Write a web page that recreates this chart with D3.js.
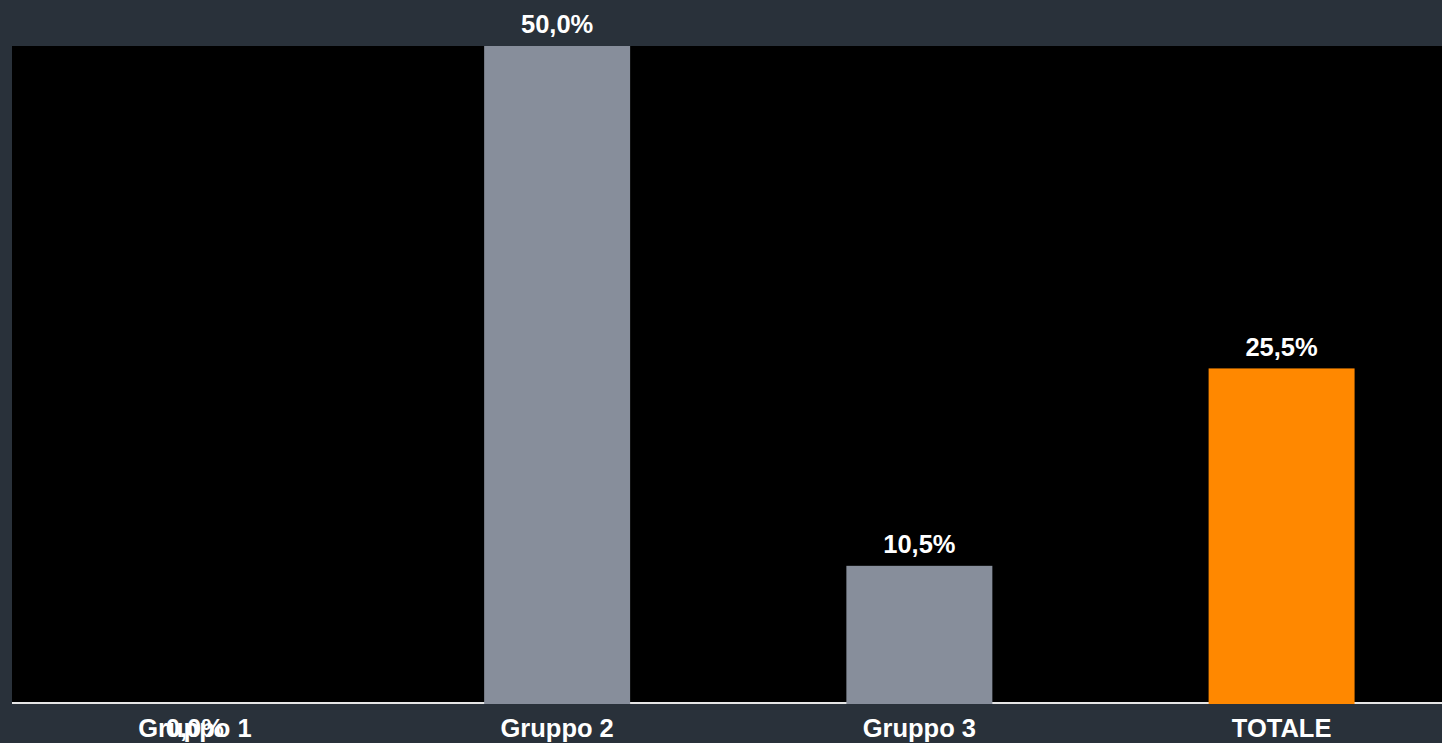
<!DOCTYPE html>
<html><head><meta charset="utf-8">
<script src="https://cdn.jsdelivr.net/npm/d3@7"></script>
<style>html,body{margin:0;padding:0;background:#29313a;overflow:hidden}</style>
</head><body>
<svg id="c" width="1442" height="743"></svg>
<script>
const categories = ["Gruppo 1", "Gruppo 2", "Gruppo 3", "TOTALE"];
const values = [0.0, 50.0, 10.5, 25.5];
const barColors = ["#878e9b", "#878e9b", "#878e9b", "#ff8800"];

const W = 1442, H = 743;
const svg = d3.select("#c");
const plot = {left: 12, top: 46, right: 1442, bottom: 704};

svg.append("rect").attr("x", 0).attr("y", 0).attr("width", W).attr("height", H).attr("fill", "#29313a");
svg.append("rect").attr("x", plot.left).attr("y", plot.top)
  .attr("width", plot.right - plot.left).attr("height", plot.bottom - plot.top).attr("fill", "#000");

const x = d3.scaleBand().domain(categories).range([13.25, 1463.25]).paddingInner(0.597).paddingOuter(0.3);
const y = d3.scaleLinear().domain([0, 50]).range([plot.bottom, plot.top]);

svg.append("line").attr("x1", plot.left).attr("x2", plot.right)
  .attr("y1", plot.bottom - 1).attr("y2", plot.bottom - 1)
  .attr("stroke", "#e6e6e6").attr("stroke-width", 2);

const data = categories.map((c, i) => ({c, v: values[i], col: barColors[i]}));

svg.selectAll("rect.bar").data(data).enter().append("rect").attr("class", "bar")
  .attr("x", d => x(d.c)).attr("width", x.bandwidth())
  .attr("y", d => y(d.v)).attr("height", d => y(0) - y(d.v))
  .attr("fill", d => d.col);

const font = "'Liberation Sans', Arial, sans-serif";
const fmt = v => d3.format(".1f")(v).replace(".", ",") + "%";

const axis = d3.axisBottom(x).tickSize(0).tickPadding(0);
const g = svg.append("g").attr("transform", `translate(0,${plot.bottom})`).call(axis);
g.select(".domain").remove();
g.selectAll("text").attr("fill", "#fff").attr("font-family", font).attr("font-weight", "bold")
  .attr("font-size", "25.5px").attr("dy", null).attr("y", 33);

svg.selectAll("text.val").data(data).enter().append("text").attr("class", "val")
  .attr("x", d => x(d.c) + x.bandwidth() / 2)
  .attr("y", d => d.v === 0 ? plot.bottom + 33 : y(d.v) - 12.7)
  .attr("text-anchor", "middle").attr("fill", "#fff")
  .attr("font-family", font).attr("font-weight", "bold").attr("font-size", "25.5px")
  .text(d => fmt(d.v));
</script>
</body></html>
